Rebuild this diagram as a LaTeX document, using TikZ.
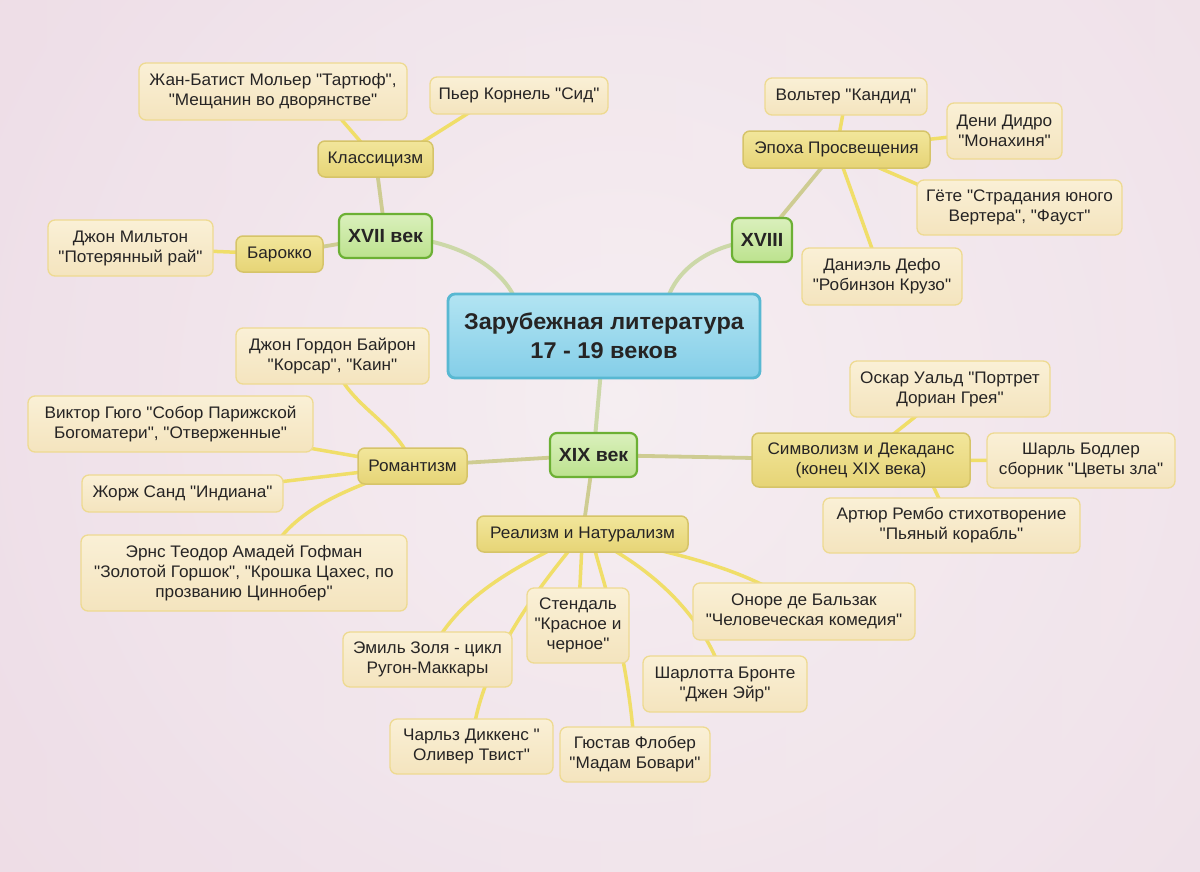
\documentclass[tikz,border=0pt]{standalone}
\usepackage{fontspec}
\newfontfamily\mapfont{Liberation Sans}[FakeStretch=1.03]
\usetikzlibrary{calc}
\pgfdeclarelayer{back}
\pgfdeclarelayer{lines}
\pgfsetlayers{back,lines,main}
\definecolor{bgedge}{RGB}{236,217,228}
\definecolor{bgright}{RGB}{242,230,236}
\definecolor{bgcenter}{RGB}{248,243,245}
\definecolor{txt}{RGB}{38,36,36}
\definecolor{l3t}{RGB}{250,240,214}
\definecolor{l3b}{RGB}{244,228,190}
\definecolor{l3d}{RGB}{238,218,145}
\definecolor{l2t}{RGB}{242,230,155}
\definecolor{l2b}{RGB}{230,212,118}
\definecolor{l2d}{RGB}{214,196,105}
\definecolor{l1t}{RGB}{218,240,188}
\definecolor{l1b}{RGB}{188,226,142}
\definecolor{l1d}{RGB}{108,176,52}
\definecolor{l0t}{RGB}{178,228,242}
\definecolor{l0b}{RGB}{132,206,232}
\definecolor{l0d}{RGB}{88,184,210}
\definecolor{ln3}{RGB}{240,222,105}
\definecolor{ln2}{RGB}{206,204,146}
\definecolor{ln1}{RGB}{204,216,168}
\tikzset{
  base/.style={rounded corners=7pt, align=center, inner sep=0pt, text=txt},
  l3/.style={base, draw=l3d, line width=1.3pt, top color=l3t, bottom color=l3b, font=\mapfont\fontsize{16.7}{20}\selectfont},
  l2/.style={base, draw=l2d, line width=1.5pt, top color=l2t, bottom color=l2b, font=\mapfont\fontsize{16.7}{20}\selectfont},
  l1/.style={base, draw=l1d, line width=2.2pt, top color=l1t, bottom color=l1b, font=\mapfont\fontsize{19}{22}\selectfont\bfseries},
  l0/.style={base, draw=l0d, line width=2.8pt, top color=l0t, bottom color=l0b, font=\mapfont\fontsize{22.8}{29}\selectfont\bfseries},
  c3/.style={line width=3.5pt, draw=ln3, line cap=round},
  c2/.style={line width=3.8pt, draw=ln2, line cap=round},
  c1/.style={line width=4pt, draw=ln1, line cap=round},
}
\begin{document}
\begin{tikzpicture}[x=1pt,y=-1pt]
\useasboundingbox (0,0) rectangle (1200,871);
\begin{pgfonlayer}{back}
\shade[left color=bgedge, right color=bgright] (0,0) rectangle (1200,871);
\begin{scope}
\clip (0,0) rectangle (1200,871);
\shade[inner color=bgcenter, outer color=bgedge, opacity=0.75] (620,400) circle (1000);
\end{scope}
\end{pgfonlayer}

% central
\node[l0, minimum width=312pt, minimum height=84pt] (root) at (604,336) {Зарубежная литература\\17 - 19 веков};
% level 1
\node[l1, minimum width=93pt, minimum height=44pt] (c17) at (385.5,236) {XVII век};
\node[l1, minimum width=60pt, minimum height=44pt] (c18) at (762,240) {XVIII};
\node[l1, minimum width=87pt, minimum height=44pt] (c19) at (593.5,455) {XIX век};
% level 2
\node[l2, minimum width=115pt, minimum height=36pt] (klass) at (375.5,159) {Классицизм};
\node[l2, minimum width=87pt, minimum height=36pt] (barok) at (279.5,254) {Барокко};
\node[l2, minimum width=187pt, minimum height=37pt] (prosv) at (836.5,149.5) {Эпоха Просвещения};
\node[l2, minimum width=109pt, minimum height=36pt] (roman) at (412.5,466) {Романтизм};
\node[l2, minimum width=218pt, minimum height=54pt] (simv) at (861,460) {Символизм и Декаданс\\(конец XIX века)};
\node[l2, minimum width=211pt, minimum height=36pt] (real) at (582.5,534) {Реализм и Натурализм};
% level 3
\node[l3, minimum width=268pt, minimum height=57pt] (jean) at (273,91.5) {Жан-Батист Мольер "Тартюф",\\"Мещанин во дворянстве"};
\node[l3, minimum width=178pt, minimum height=37pt] (korn) at (519,95.5) {Пьер Корнель "Сид"};
\node[l3, minimum width=165pt, minimum height=56pt] (milt) at (130.5,248) {Джон Мильтон\\"Потерянный рай"};
\node[l3, minimum width=162pt, minimum height=37pt] (volt) at (846,96.5) {Вольтер "Кандид"};
\node[l3, minimum width=115pt, minimum height=56pt] (didr) at (1004.5,131) {Дени Дидро\\"Монахиня"};
\node[l3, minimum width=205pt, minimum height=55pt] (gete) at (1019.5,207.5) {Гёте "Страдания юного\\Вертера", "Фауст"};
\node[l3, minimum width=160pt, minimum height=57pt] (defo) at (882,276.5) {Даниэль Дефо\\"Робинзон Крузо"};
\node[l3, minimum width=193pt, minimum height=56pt] (bair) at (332.5,356) {Джон Гордон Байрон\\"Корсар", "Каин"};
\node[l3, minimum width=285pt, minimum height=56pt] (gugo) at (170.5,424) {Виктор Гюго "Собор Парижской\\Богоматери", "Отверженные"};
\node[l3, minimum width=201pt, minimum height=37pt] (sand) at (182.5,493.5) {Жорж Санд "Индиана"};
\node[l3, minimum width=326pt, minimum height=76pt] (hofm) at (244,573) {Эрнс Теодор Амадей Гофман\\"Золотой Горшок", "Крошка Цахес, по\\прозванию Циннобер"};
\node[l3, minimum width=200pt, minimum height=56pt] (uald) at (950,389) {Оскар Уальд "Портрет\\Дориан Грея"};
\node[l3, minimum width=188pt, minimum height=55pt] (bodl) at (1081,460.5) {Шарль Бодлер\\сборник "Цветы зла"};
\node[l3, minimum width=257pt, minimum height=55pt] (remb) at (951.5,525.5) {Артюр Рембо стихотворение\\"Пьяный корабль"};
\node[l3, minimum width=102pt, minimum height=75pt] (stend) at (578,625.5) {Стендаль\\"Красное и\\черное"};
\node[l3, minimum width=169pt, minimum height=55pt] (zola) at (427.5,659.5) {Эмиль Золя - цикл\\Ругон-Маккары};
\node[l3, minimum width=163pt, minimum height=55pt] (dick) at (471.5,746.5) {Чарльз Диккенс "\\Оливер Твист"};
\node[l3, minimum width=150pt, minimum height=55pt] (flob) at (635,754.5) {Гюстав Флобер\\"Мадам Бовари"};
\node[l3, minimum width=222pt, minimum height=57pt] (balz) at (804,611.5) {Оноре де Бальзак\\"Человеческая комедия"};
\node[l3, minimum width=164pt, minimum height=56pt] (bront) at (725,684) {Шарлотта Бронте\\"Джен Эйр"};

\begin{pgfonlayer}{lines}
% root to centuries
\draw[c1] (c17.center) .. controls (460,238) and (505,270) .. ($(root.north west)+(70,10)$);
\draw[c1] (c18.center) .. controls (710,243) and (675,270) .. ($(root.north east)+(-95,10)$);
\draw[c1] (root.center) -- (c19.center);
% XVII
\draw[c2] (c17.center) -- (klass.center);
\draw[c2] (c17.center) -- (barok.center);
\draw[c3] (barok.center) -- (milt.center);
\draw[c3] (klass.center) -- ($(jean.center)+(52,9)$);
\draw[c3] ($(klass.center)+(20,0)$) -- ($(korn.center)+(-29,4)$);
% XVIII
\draw[c2] (c18.center) -- (prosv.center);
\draw[c3] (prosv.center) -- (volt.center);
\draw[c3] (prosv.center) -- (didr.center);
\draw[c3] (prosv.center) -- ($(prosv.center)+(144,62)$);
\draw[c3] (prosv.center) -- (defo.center);
% XIX
\draw[c2] (c19.center) -- (roman.center);
\draw[c2] (c19.center) -- (simv.center);
\draw[c2] (c19.center) -- (real.center);
% romanticism
\draw[c3] (bair.center) .. controls (342,405) and (398,420) .. (roman.center);
\draw[c3] (roman.center) -- (gugo.center);
\draw[c3] (roman.center) -- (sand.center);
\draw[c3] ($(hofm.center)+(18,0)$) .. controls (280,512) and (345,490) .. (roman.center);
% symbolism
\draw[c3] (simv.center) -- (uald.center);
\draw[c3] (simv.center) -- (bodl.center);
\draw[c3] ($(simv.center)+(60,0)$) -- (remb.center);
% realism
\draw[c3] (real.center) .. controls (520,565) and (455,595) .. (zola.center);
\draw[c3] (real.center) .. controls (545,580) and (478,660) .. (dick.center);
\draw[c3] (real.center) -- (stend.center);
\draw[c3] ($(real.center)+(8,0)$) .. controls (605,590) and (628,650) .. (flob.center);
\draw[c3] (real.center) .. controls (640,560) and (705,610) .. (bront.center);
\draw[c3] (real.center) .. controls (650,548) and (750,565) .. (balz.center);
\end{pgfonlayer}
\end{tikzpicture}
\end{document}
